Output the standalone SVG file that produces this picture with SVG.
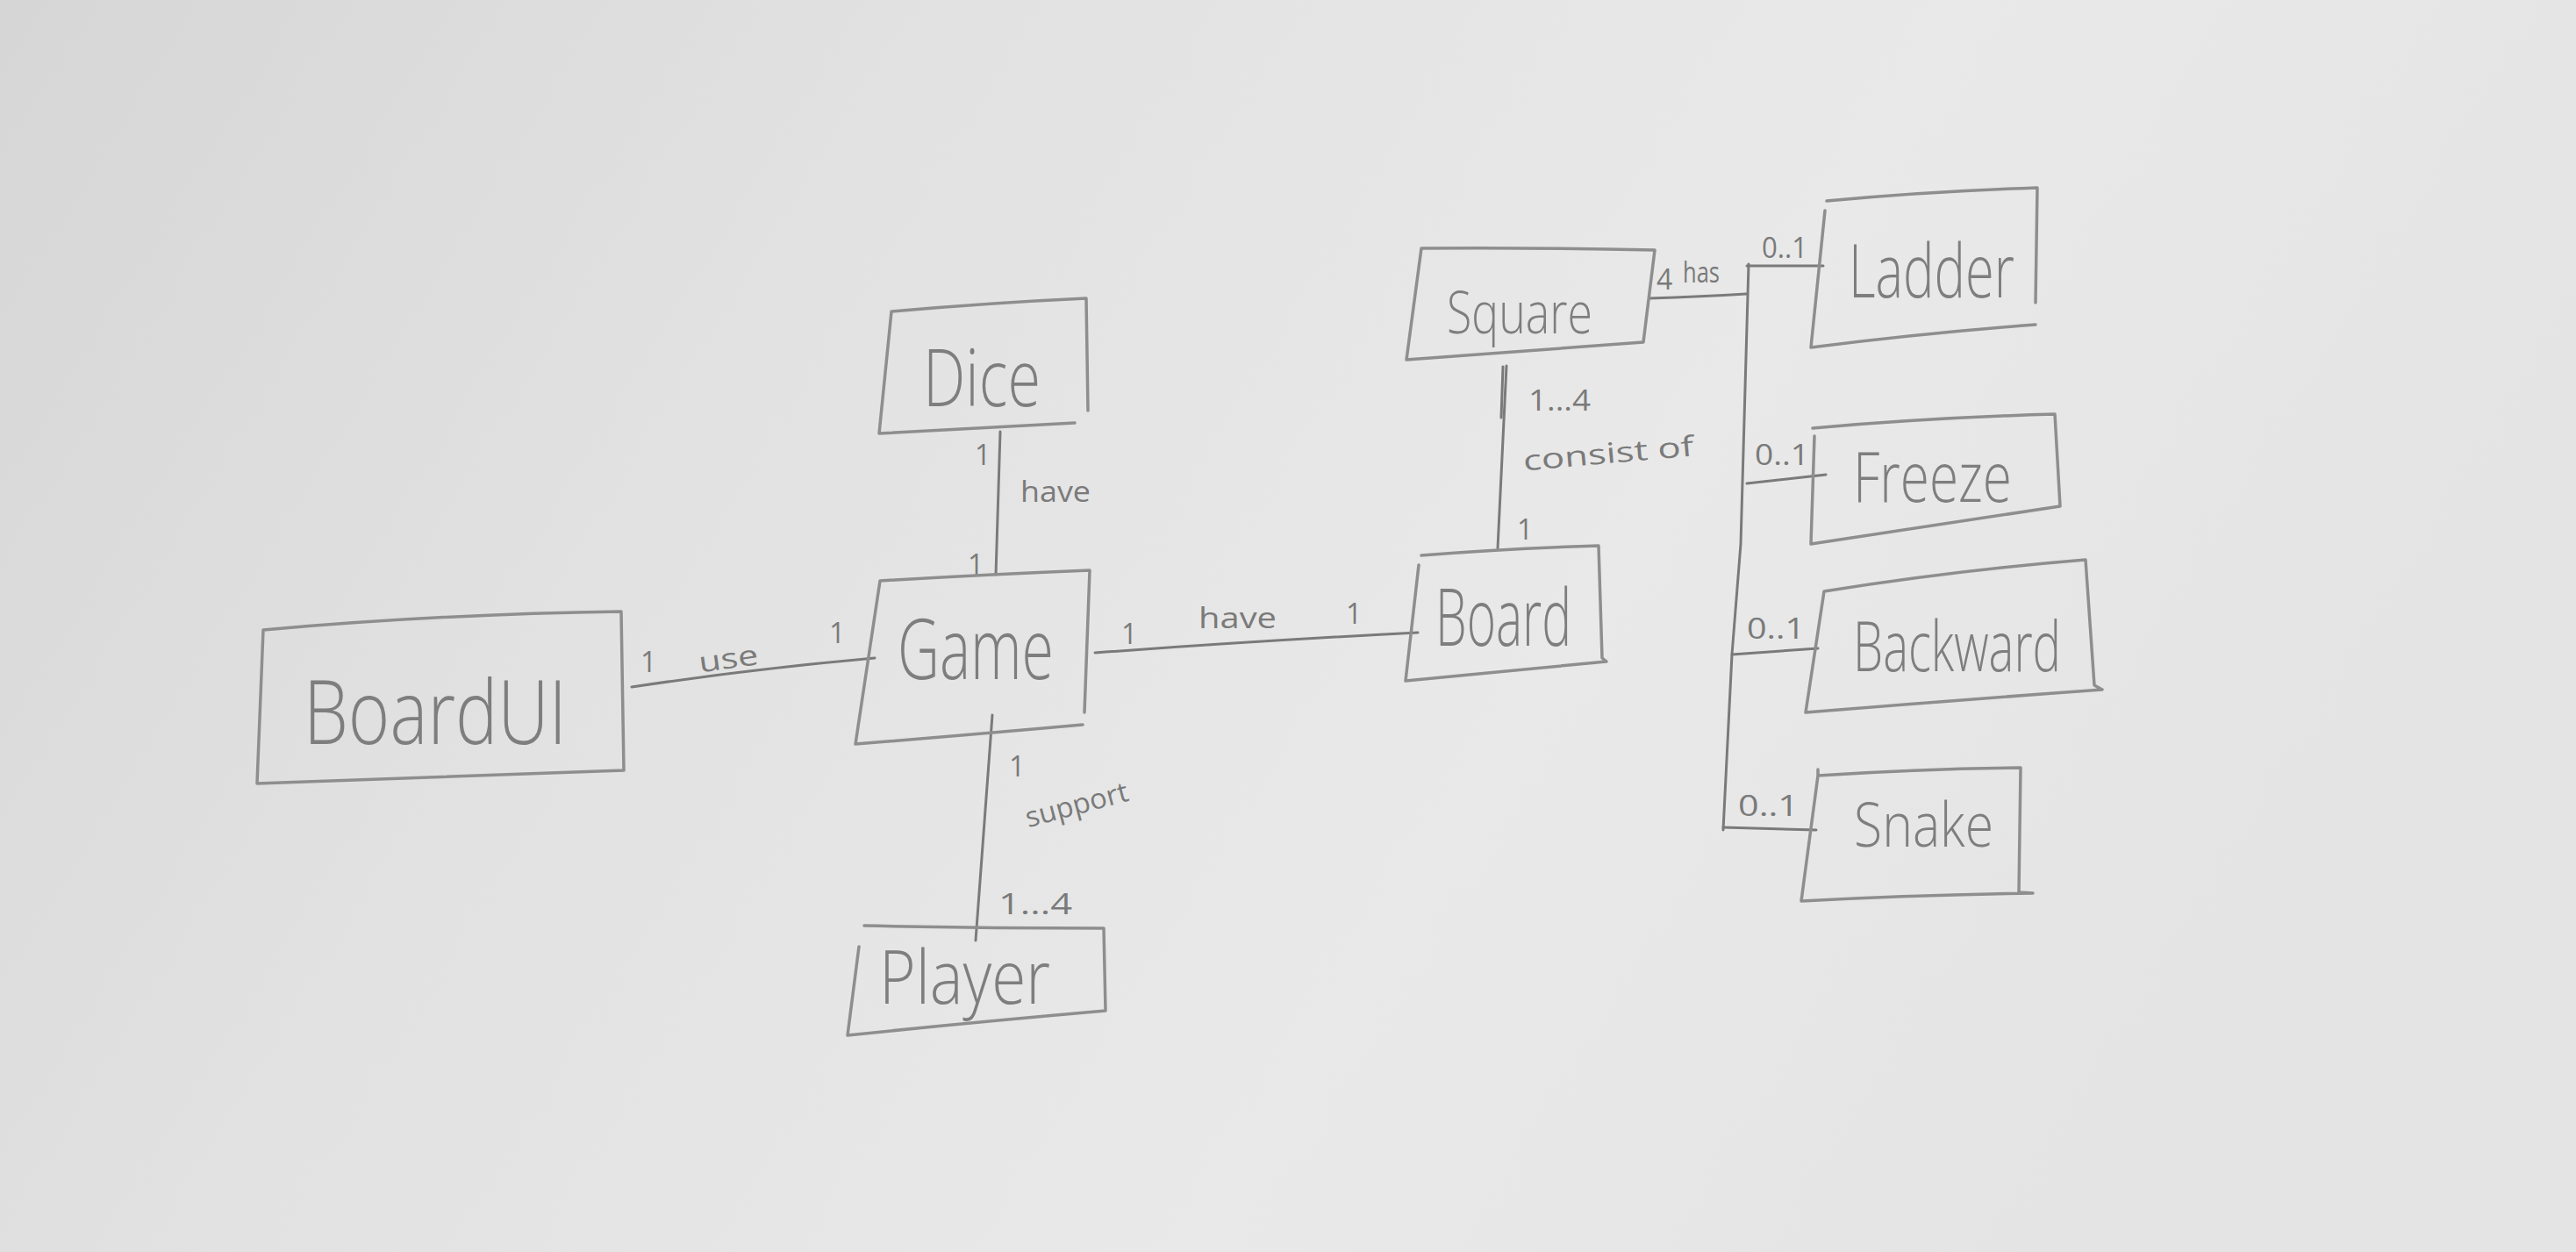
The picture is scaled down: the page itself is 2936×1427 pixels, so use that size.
<svg xmlns="http://www.w3.org/2000/svg" width="2936" height="1427" viewBox="0 0 2936 1427">
<defs>
<linearGradient id="paper" x1="0" y1="0" x2="1" y2="0.3">
<stop offset="0" stop-color="#d6d6d6"/>
<stop offset="0.35" stop-color="#e2e2e2"/>
<stop offset="0.7" stop-color="#e9e9e9"/>
<stop offset="1" stop-color="#e4e4e4"/>
</linearGradient>
<style>
.box{fill:none;stroke:#8e8e8e;stroke-width:3.5;stroke-linejoin:round;stroke-linecap:round}
.con{fill:none;stroke:#7a7a7a;stroke-width:3;stroke-linecap:round}
.name{font-family:"Open Sans","Roboto","DejaVu Sans",sans-serif;font-weight:300;fill:#7e7e7e;text-anchor:start}
.lbl{font-family:"Open Sans","Roboto","DejaVu Sans",sans-serif;font-weight:400;fill:#7a7a7a;font-size:32px}
</style>
</defs>
<rect x="0" y="0" width="2936" height="1427" fill="url(#paper)"/>

<g id="connectors">
<path class="con" d="M720,783 Q860,762 997,750"/>
<path class="con" d="M1140,492 L1135,655"/>
<path class="con" d="M1248,744 Q1440,730 1616,721"/>
<path class="con" d="M1131,815 L1112,1072"/>
<path class="con" d="M1717,417 L1707,625"/>
<path class="con" d="M1713,418 L1711,476"/>
<path class="con" d="M1880,340 Q1940,338 1990,335"/>
<path class="con" d="M1993,301 L1984,620 L1974,746 L1964,946"/>
<path class="con" d="M1991,303 L2078,303"/>
<path class="con" d="M1991,551 L2081,541"/>
<path class="con" d="M1974,746 L2072,739"/>
<path class="con" d="M1964,943 L2070,946"/>
<text class="lbl" x="730" y="766">1</text>
<text class="lbl" x="796" y="762" font-size="40" textLength="68" lengthAdjust="spacingAndGlyphs" transform="rotate(-8 830 750)">use</text>
<text class="lbl" x="945" y="733">1</text>
<text class="lbl" x="1111" y="530">1</text>
<text class="lbl" x="1163" y="572" font-size="36" textLength="80" lengthAdjust="spacingAndGlyphs">have</text>
<text class="lbl" x="1103" y="655">1</text>
<text class="lbl" x="1278" y="734" font-size="38">1</text>
<text class="lbl" x="1366" y="716" font-size="50" textLength="89" lengthAdjust="spacingAndGlyphs">have</text>
<text class="lbl" x="1534" y="711">1</text>
<text class="lbl" x="1150" y="885">1</text>
<text class="lbl" x="1166" y="928" font-size="34" textLength="120" lengthAdjust="spacingAndGlyphs" transform="rotate(-15 1227 913)">support</text>
<text class="lbl" x="1138" y="1042" textLength="84" lengthAdjust="spacingAndGlyphs">1...4</text>
<text class="lbl" x="1742" y="468" textLength="71" lengthAdjust="spacingAndGlyphs">1...4</text>
<text class="lbl" x="1735" y="528" font-size="42" textLength="195" lengthAdjust="spacingAndGlyphs" transform="rotate(-5 1832 510)">consist of</text>
<text class="lbl" x="1729" y="615">1</text>
<text class="lbl" x="1888" y="330" font-size="28">4</text>
<text class="lbl" x="1918" y="322" font-size="30" textLength="42" lengthAdjust="spacingAndGlyphs">has</text>
<text class="lbl" x="2008" y="294" font-size="30" textLength="52" lengthAdjust="spacingAndGlyphs">0..1</text>
<text class="lbl" x="2000" y="530" font-size="30" textLength="62" lengthAdjust="spacingAndGlyphs">0..1</text>
<text class="lbl" x="1991" y="728" font-size="30" textLength="66" lengthAdjust="spacingAndGlyphs">0..1</text>
<text class="lbl" x="1981" y="930" font-size="30" textLength="69" lengthAdjust="spacingAndGlyphs">0..1</text>
</g>

<g id="node-boardui">
<path class="box" d="M300,718 Q500,700 708,697 L711,878 Q500,885 293,893 Z"/>
<text class="name" x="346" y="848" font-size="102" textLength="300" lengthAdjust="spacingAndGlyphs">BoardUI</text>
</g>
<g id="node-dice">
<path class="box" d="M1016,355 Q1130,345 1238,340 L1240,468 M1225,482 Q1110,488 1002,494 L1016,355"/>
<text class="name" x="1052" y="463" font-size="90" textLength="134" lengthAdjust="spacingAndGlyphs">Dice</text>
</g>
<g id="node-game">
<path class="box" d="M1003,662 Q1120,655 1242,650 L1236,812 M1234,826 Q1100,838 975,848 L1003,662"/>
<text class="name" x="1023" y="774" font-size="96" textLength="178" lengthAdjust="spacingAndGlyphs">Game</text>
</g>
<g id="node-player">
<path class="box" d="M985,1055 Q1120,1058 1258,1058 L1260,1152 Q1110,1165 966,1180 L979,1079"/>
<text class="name" x="1002" y="1144" font-size="85" textLength="195" lengthAdjust="spacingAndGlyphs">Player</text>
</g>
<g id="node-board">
<path class="box" d="M1620,633 Q1720,625 1822,622 L1826,750 L1831,754 Q1715,765 1602,776 L1617,644"/>
<text class="name" x="1636" y="736" font-size="90" textLength="155" lengthAdjust="spacingAndGlyphs">Board</text>
</g>
<g id="node-square">
<path class="box" d="M1620,283 Q1750,282 1886,285 L1873,390 Q1740,400 1603,410 Z"/>
<text class="name" x="1649" y="380" font-size="66" textLength="166" lengthAdjust="spacingAndGlyphs">Square</text>
</g>
<g id="node-ladder">
<path class="box" d="M2082,229 Q2200,218 2322,214 L2320,345 M2320,370 Q2190,380 2064,396 L2080,240"/>
<text class="name" x="2107" y="339" font-size="84" textLength="189" lengthAdjust="spacingAndGlyphs">Ladder</text>
</g>
<g id="node-freeze">
<path class="box" d="M2066,488 Q2200,476 2342,472 L2348,577 Q2200,600 2064,620 L2068,497"/>
<text class="name" x="2112" y="572" font-size="79" textLength="181" lengthAdjust="spacingAndGlyphs">Freeze</text>
</g>
<g id="node-backward">
<path class="box" d="M2079,674 Q2230,650 2377,638 L2387,781 L2396,786 Q2230,798 2058,812 Z"/>
<text class="name" x="2112" y="765" font-size="80" textLength="237" lengthAdjust="spacingAndGlyphs">Backward</text>
</g>
<g id="node-snake">
<path class="box" d="M2072,877 L2072,884 Q2190,876 2303,875 L2301,1017 L2317,1018 Q2180,1020 2053,1027 L2072,884"/>
<text class="name" x="2113" y="965" font-size="70" textLength="159" lengthAdjust="spacingAndGlyphs">Snake</text>
</g>
</svg>
